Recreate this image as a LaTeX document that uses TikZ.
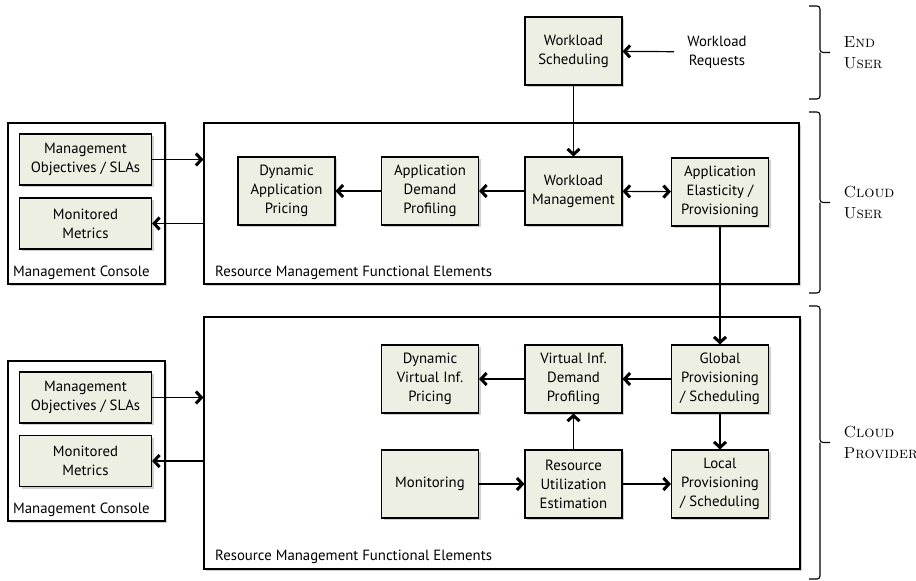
\documentclass[tikz,border=0pt]{standalone}
\usepackage{fontspec}
\newfontfamily\sansf{PT Sans}
\usetikzlibrary{arrows.meta,shadows}
\definecolor{boxfill}{RGB}{236,239,226}
\begin{document}
\begin{tikzpicture}[x=1pt,y=-1pt,
  every node/.style={font=\sansf\fontsize{14.8}{19}\selectfont, align=center},
  shad/.style={drop shadow={shadow xshift=2pt,shadow yshift=-2pt,fill=black!60,opacity=0.3}},
  fe/.style={draw, line width=1.1pt, fill=boxfill, minimum width=97pt, minimum height=68pt, inner sep=0pt, shad},
  me/.style={fe, minimum width=132pt, minimum height=51pt},
  frm/.style={draw, line width=1.1pt, fill=white, inner sep=0pt, shad},
  lbl/.style={anchor=base west, inner sep=0pt},
  tip/.tip={Straight Barb[length=5.5pt,width=12pt,line width=3pt]},
  arr/.style={line width=1.2pt, -tip},
  darr/.style={line width=1.2pt, tip-tip},
  brc/.style={line width=1.1pt, rounded corners=3pt},
  grp/.style={anchor=west, font=\rmfamily\fontsize{16}{21}\selectfont, align=left}
]
\useasboundingbox (0,0) rectangle (916,581);

% frames
\node[frm, minimum width=595pt, minimum height=161pt] (uf) at (501.5,203.5) {};
\node[frm, minimum width=596pt, minimum height=252pt] (lf) at (502,443) {};
\node[frm, minimum width=157pt, minimum height=161pt] (umc) at (86.5,203.5) {};
\node[frm, minimum width=157pt, minimum height=160pt] (lmc) at (86.5,441) {};

\node[lbl] (uft) at (215,276) {Resource Management Functional Elements};
\node[lbl] (lft) at (215,560) {Resource Management Functional Elements};
\node[lbl] (umct) at (13,276) {Management Console};
\node[lbl] (lmct) at (13,513) {Management Console};

% end user
\node[fe] (ws) at (573.5,51) {Workload\\Scheduling};
\node[inner xsep=13pt] (wr) at (717,52) {Workload\\Requests};

% cloud user
\node[me] (mo1) at (85.5,159.5) {Management\\Objectives / SLAs};
\node[me] (mm1) at (85.5,223.5) {Monitored\\Metrics};
\node[fe] (dap) at (286.5,191) {Dynamic\\Application\\Pricing};
\node[fe] (adp) at (430,191) {Application\\Demand\\Profiling};
\node[fe] (wm) at (573.5,191) {Workload\\Management};
\node[fe] (ae) at (720,192) {Application\\Elasticity /\\Provisioning};

% cloud provider
\node[me] (mo2) at (85.5,397.5) {Management\\Objectives / SLAs};
\node[me] (mm2) at (85.5,461) {Monitored\\Metrics};
\node[fe] (dvp) at (430,379) {Dynamic\\Virtual Inf.\\Pricing};
\node[fe] (vdp) at (573.5,379) {Virtual Inf.\\Demand\\Profiling};
\node[fe] (gp) at (720,379) {Global\\Provisioning\\/ Scheduling};
\node[fe] (mon) at (430,484) {Monitoring};
\node[fe] (rue) at (573.5,484) {Resource\\Utilization\\Estimation};
\node[fe] (lp) at (720,484) {Local\\Provisioning\\/ Scheduling};

% connectors
\draw[arr] (wr) -- (ws);
\draw[arr] (ws) -- (wm);
\draw[arr] (wm) -- (adp);
\draw[arr] (adp) -- (dap);
\draw[darr] (wm) -- (ae);
\draw[arr] (mo1.east) -- (mo1.east -| uf.west);
\draw[arr] (mm1.east -| uf.west) -- (mm1.east);
\draw[arr] (ae) -- (gp);
\draw[arr] (gp) -- (vdp);
\draw[arr] (vdp) -- (dvp);
\draw[arr] (rue) -- (vdp);
\draw[arr] (mon) -- (rue);
\draw[arr] (rue) -- (lp);
\draw[arr] (gp) -- (lp);
\draw[arr] (mo2.east) -- (mo2.east -| lf.west);
\draw[arr] (mm2.east -| lf.west) -- (mm2.east);

% braces
\draw[brc] (809,6) -- (820,6) -- (820,52.5) -- (830,52.5);
\draw[brc] (809,99) -- (820,99) -- (820,52.5);
\draw[brc] (809,112) -- (820,112) -- (820,202.5) -- (830,202.5);
\draw[brc] (809,293) -- (820,293) -- (820,202.5);
\draw[brc] (809,306) -- (820,306) -- (820,442.5) -- (830,442.5);
\draw[brc] (809,579) -- (820,579) -- (820,442.5);

\node[grp] (eu) at (840,52.5) {\textsc{End}\\\textsc{User}};
\node[grp] (cu) at (840,202.5) {\textsc{Cloud}\\\textsc{User}};
\node[grp] (cp) at (840,442.5) {\textsc{Cloud}\\\textsc{Provider}};
\end{tikzpicture}
\end{document}
